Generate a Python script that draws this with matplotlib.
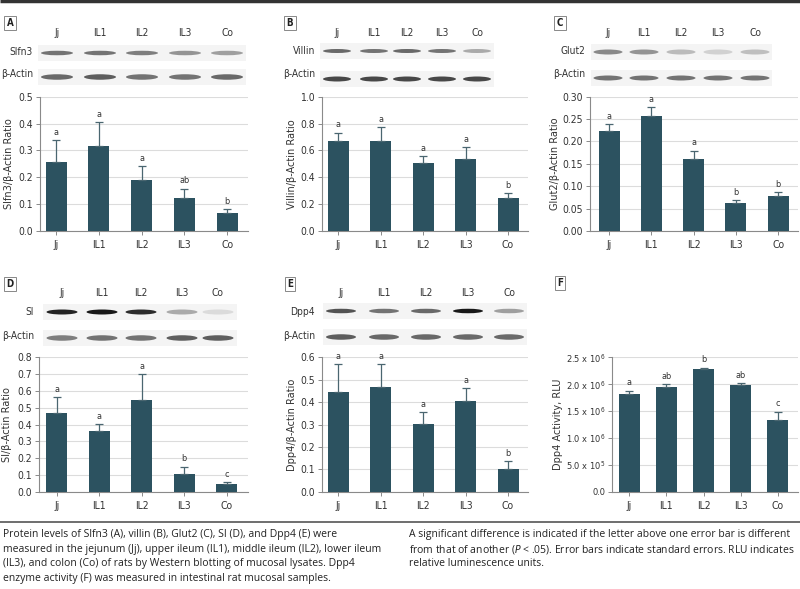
import matplotlib
matplotlib.use("Agg")
import matplotlib.pyplot as plt
from matplotlib.patches import Ellipse, Rectangle
import numpy as np

W, H = 800, 589
plt.rcParams['font.family'] = ['DejaVu Sans']
plt.rcParams['font.stretch'] = 'condensed'

# ---------------- data ----------------
categories = ['Jj', 'IL1', 'IL2', 'IL3', 'Co']

slfn3_vals = [0.256, 0.317, 0.190, 0.124, 0.066]
slfn3_err = [0.081, 0.087, 0.051, 0.033, 0.015]
slfn3_sig = ['a', 'a', 'a', 'ab', 'b']

villin_vals = [0.670, 0.672, 0.509, 0.534, 0.243]
villin_err = [0.062, 0.100, 0.049, 0.089, 0.038]
villin_sig = ['a', 'a', 'a', 'a', 'b']

glut2_vals = [0.224, 0.258, 0.160, 0.062, 0.079]
glut2_err = [0.014, 0.018, 0.019, 0.007, 0.008]
glut2_sig = ['a', 'a', 'a', 'b', 'b']

si_vals = [0.466, 0.361, 0.545, 0.108, 0.045]
si_err = [0.095, 0.040, 0.155, 0.040, 0.012]
si_sig = ['a', 'a', 'a', 'b', 'c']

dpp4_vals = [0.446, 0.466, 0.302, 0.406, 0.103]
dpp4_err = [0.123, 0.104, 0.052, 0.055, 0.033]
dpp4_sig = ['a', 'a', 'a', 'a', 'b']

act_vals = [1.81e6, 1.954e6, 2.277e6, 1.985e6, 1.335e6]
act_err = [0.07e6, 0.044e6, 0.033e6, 0.032e6, 0.155e6]
act_sig = ['a', 'ab', 'b', 'ab', 'c']

# blot band intensities (0..1) per lane
blot_slfn3 = [0.55, 0.55, 0.5, 0.4, 0.35]
blot_villin = [0.6, 0.55, 0.6, 0.55, 0.3]
blot_glut2 = [0.45, 0.4, 0.22, 0.12, 0.2]
blot_si = [0.92, 0.97, 0.88, 0.3, 0.07]
blot_dpp4 = [0.7, 0.55, 0.6, 0.97, 0.35]
blot_actin_A = [0.6, 0.65, 0.55, 0.55, 0.6]
blot_actin_B = [0.75, 0.75, 0.75, 0.75, 0.75]
blot_actin_C = [0.55, 0.55, 0.55, 0.55, 0.55]
blot_actin_D = [0.5, 0.55, 0.55, 0.65, 0.65]
blot_actin_E = [0.65, 0.6, 0.6, 0.6, 0.6]

bar_color = '#2c5260'
err_color = '#4a6670'
grid_color = '#dcdcdc'
spine_color = '#8a8a8a'
text_color = '#333333'

fig = plt.figure(figsize=(W / 100, H / 100), dpi=100)

def rect(x0, x1, ytop, ybot):
    return [x0 / W, 1 - ybot / H, (x1 - x0) / W, (ybot - ytop) / H]

def bar_panel(r, vals, errs, sig, ylim, yticks, yticklabels, ylabel, xlim, width,
              labelpad, ytick_size=7.5):
    ax = fig.add_axes(r)
    x = np.arange(len(categories))
    ax.bar(x, vals, width=width, color=bar_color, zorder=3)
    ax.errorbar(x, vals, yerr=[np.zeros(len(vals)), errs], fmt='none',
                ecolor=err_color, elinewidth=0.9, capsize=2.8, capthick=0.9, zorder=4)
    for xi, v, e, s in zip(x, vals, errs, sig):
        ax.annotate(s, (xi, v + e), xytext=(0, 2.5), textcoords='offset points',
                    ha='center', va='bottom', fontsize=6.5, color=text_color)
    ax.set_xlim(*xlim)
    ax.set_ylim(*ylim)
    ax.set_yticks(yticks)
    ax.set_yticklabels(yticklabels)
    ax.set_xticks(x)
    ax.set_xticklabels(categories)
    ax.yaxis.grid(True, color=grid_color, linewidth=0.8, zorder=0)
    ax.set_axisbelow(True)
    for sp in ['top', 'right']:
        ax.spines[sp].set_visible(False)
    for sp in ['left', 'bottom']:
        ax.spines[sp].set_color(spine_color)
        ax.spines[sp].set_linewidth(0.8)
    ax.tick_params(axis='both', colors=spine_color, labelcolor=text_color,
                   labelsize=7.5, length=3, width=0.7, pad=2)
    ax.tick_params(axis='y', labelsize=ytick_size)
    ax.tick_params(axis='x', pad=3.5)
    ax.set_ylabel(ylabel, fontsize=7.8, color=text_color, labelpad=labelpad)
    return ax

# Panels
bar_panel(rect(40, 248, 96.7, 231), slfn3_vals, slfn3_err, slfn3_sig, (0, 0.5),
          [0, 0.1, 0.2, 0.3, 0.4, 0.5], ['0.0', '0.1', '0.2', '0.3', '0.4', '0.5'],
          'Slfn3/β-Actin Ratio', (-0.38, 4.49), 21 / 42.75, 3.5)
bar_panel(rect(322, 528, 96.7, 231), villin_vals, villin_err, villin_sig, (0, 1.0),
          [0, 0.2, 0.4, 0.6, 0.8, 1.0], ['0.0', '0.2', '0.4', '0.6', '0.8', '1.0'],
          'Villin/β-Actin Ratio', (-0.38, 4.47), 21 / 42.5, 2.5)
bar_panel(rect(590, 798, 96.7, 231), glut2_vals, glut2_err, glut2_sig, (0, 0.30),
          [0, 0.05, 0.10, 0.15, 0.20, 0.25, 0.30],
          ['0.00', '0.05', '0.10', '0.15', '0.20', '0.25', '0.30'],
          'Glut2/β-Actin Ratio', (-0.45, 4.47), 21 / 42.25, 1.5)
bar_panel(rect(39, 248, 357.3, 491.8), si_vals, si_err, si_sig, (0, 0.8),
          [0, 0.1, 0.2, 0.3, 0.4, 0.5, 0.6, 0.7, 0.8],
          ['0.0', '0.1', '0.2', '0.3', '0.4', '0.5', '0.6', '0.7', '0.8'],
          'SI/β-Actin Ratio', (-0.42, 4.5), 21 / 42.4, 3.5)
bar_panel(rect(322, 528, 357.3, 491.8), dpp4_vals, dpp4_err, dpp4_sig, (0, 0.6),
          [0, 0.1, 0.2, 0.3, 0.4, 0.5, 0.6],
          ['0.0', '0.1', '0.2', '0.3', '0.4', '0.5', '0.6'],
          'Dpp4/β-Actin Ratio', (-0.38, 4.47), 21 / 42.5, 2.5)
f_ticks = [0, 0.5e6, 1.0e6, 1.5e6, 2.0e6, 2.5e6]
f_ticklabels = ['0.0', r'5.0 x 10$^5$', r'1.0 x 10$^6$', r'1.5 x 10$^6$',
                r'2.0 x 10$^6$', r'2.5 x 10$^6$']
bar_panel(rect(612, 798, 357.3, 491.8), act_vals, act_err, act_sig, (0, 2.5e6),
          f_ticks, f_ticklabels, 'Dpp4 Activity, RLU', (-0.46, 4.54), 21 / 37.25, 2,
          ytick_size=6.7)

# ---------------- overlay (blots, labels, caption) ----------------
ov = fig.add_axes([0, 0, 1, 1], zorder=-1)
ov.set_xlim(0, W)
ov.set_ylim(H, 0)
ov.axis('off')

ov.plot([0, W], [1.2, 1.2], color='#333333', linewidth=2.5, solid_capstyle='butt')
ov.plot([0, W], [521.5, 521.5], color='#555555', linewidth=1.2)

def panel_label(x, y, s):
    ov.text(x, y, s, fontsize=7, fontweight='bold', color='#222222', ha='center', va='center',
            bbox=dict(boxstyle='square,pad=0.25', fc='white', ec='#888888', lw=0.7))

panel_label(10, 23, 'A')
panel_label(290, 23, 'B')
panel_label(560, 23, 'C')
panel_label(10, 284, 'D')
panel_label(290, 284, 'E')
panel_label(560, 283, 'F')

def blot(lane_x, lane_y, rows, label_right, band_w):
    for lx, c in zip(lane_x, categories):
        ov.text(lx, lane_y, c, fontsize=7.3, ha='center', va='center', color=text_color)
    for name, ly, by, inten, bh in rows:
        ov.text(label_right, ly, name, fontsize=7.3, ha='right', va='center', color=text_color)
        ov.add_patch(Rectangle((lane_x[0] - band_w * 0.6, by - 8), lane_x[-1] - lane_x[0] + band_w * 1.2, 16,
                               fc='#f4f4f4', ec='none'))
        for lx, it in zip(lane_x, inten):
            g = 0.92 - 0.85 * it
            ov.add_patch(Ellipse((lx, by), band_w, bh, fc=(g, g, g), ec='none'))

blot([57, 100, 142, 185, 227], 33,
     [('Slfn3', 52, 53, blot_slfn3, 4.5), ('β-Actin', 74, 77, blot_actin_A, 5.5)], 33, 32)
blot([337, 374, 407, 442, 477], 33,
     [('Villin', 51, 51, blot_villin, 4), ('β-Actin', 74, 79, blot_actin_B, 5)], 315, 28)
blot([608, 644, 681, 718, 755], 33,
     [('Glut2', 51, 52, blot_glut2, 5), ('β-Actin', 74, 78, blot_actin_C, 5)], 585, 29)
blot([62, 102, 141, 182, 218], 293,
     [('SI', 312, 312, blot_si, 5), ('β-Actin', 336, 338, blot_actin_D, 5.5)], 34, 31)
blot([341, 384, 426, 468, 509], 293,
     [('Dpp4', 312, 311, blot_dpp4, 4.5), ('β-Actin', 336, 337, blot_actin_E, 5.5)], 315, 30)

cap_left = ["Protein levels of Slfn3 (A), villin (B), Glut2 (C), SI (D), and Dpp4 (E) were",
            "measured in the jejunum (Jj), upper ileum (IL1), middle ileum (IL2), lower ileum",
            "(IL3), and colon (Co) of rats by Western blotting of mucosal lysates. Dpp4",
            "enzyme activity (F) was measured in intestinal rat mucosal samples."]
cap_right = ["A significant difference is indicated if the letter above one error bar is different",
             "from that of another ($\\it{P}$ < .05). Error bars indicate standard errors. RLU indicates",
             "relative luminescence units."]
for i, line in enumerate(cap_left):
    ov.text(3, 535 + i * 14.4, line, fontsize=7.5, family='Open Sans', stretch='normal',
            ha='left', va='center', color='#222222')
for i, line in enumerate(cap_right):
    ov.text(409, 535 + i * 14.4, line, fontsize=7.5, family='Open Sans', stretch='normal',
            ha='left', va='center', color='#222222')

fig.savefig('out.png', dpi=100)
